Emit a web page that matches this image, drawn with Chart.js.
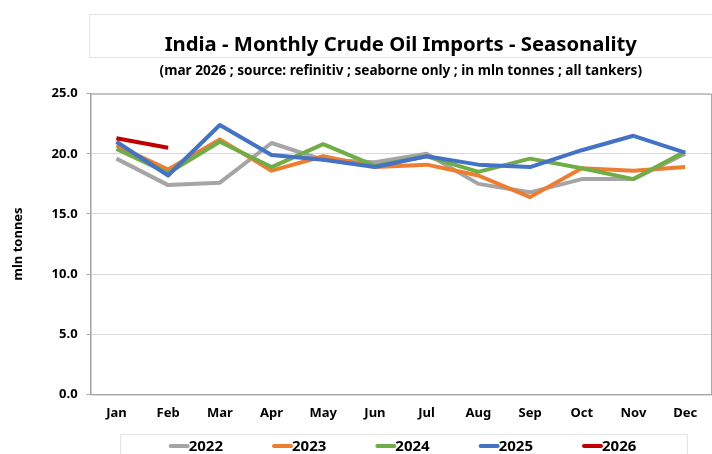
<!DOCTYPE html>
<html>
<head>
<meta charset="utf-8">
<script src="https://cdn.jsdelivr.net/npm/chart.js@4.4.1/dist/chart.umd.min.js"></script>
<style>
  html, body { margin: 0; padding: 0; background: #fff; }
  #wrap { width: 712px; height: 454px; }
</style>
</head>
<body>
<div id="wrap"><canvas id="chart"></canvas></div>
<script>
// India crude imports by month, mln tonnes
const MONTHS = ['Jan', 'Feb', 'Mar', 'Apr', 'May', 'Jun', 'Jul', 'Aug', 'Sep', 'Oct', 'Nov', 'Dec'];
const YEARS = ['2022', '2023', '2024', '2025', '2026'];
const Y2022 = [19.6, 17.4, 17.6, 20.9, 19.5, 19.3, 20.0, 17.5, 16.8, 17.9, 17.9, 20.0];
const Y2023 = [20.7, 18.7, 21.2, 18.6, 19.8, 18.9, 19.1, 18.2, 16.4, 18.8, 18.6, 18.9];
const Y2024 = [20.4, 18.4, 21.0, 18.9, 20.8, 19.0, 19.8, 18.5, 19.6, 18.8, 17.9, 20.2];
const Y2025 = [21.0, 18.2, 22.4, 19.9, 19.5, 18.9, 19.8, 19.1, 18.9, 20.3, 21.5, 20.1];
const Y2026 = [21.3, 20.5];
const Y_TICKS = [0, 5, 10, 15, 20, 25];

const SERIES = [Y2022, Y2023, Y2024, Y2025, Y2026];
const COLORS = ['#a5a5a5', '#ed7d31', '#70ad47', '#4472c4', '#c00000'];

const FONT = "'Noto Sans', sans-serif";

// frame round the plot area + faint boxes round title and legend
const frames = {
    id: 'frames',
    afterDraw(chart) {
        const { ctx, chartArea: a } = chart;
        ctx.save();
        ctx.strokeStyle = '#e3e3e3';
        ctx.lineWidth = 1;
        ctx.strokeRect(89.5, 14.5, 640, 43);
        ctx.strokeRect(120.5, 434.5, 567, 30);
        ctx.strokeStyle = '#a6a6a6';
        ctx.strokeRect(a.left + 0.5, a.top + 0.5, a.right - a.left, a.bottom - a.top);
        ctx.restore();
    },
};

// legend like the excel one: short line sample glued to the year
const lineLegend = {
    id: 'lineLegend',
    afterDraw(chart) {
        const { ctx } = chart;
        const sets = chart.data.datasets;
        const gap = 49, sample = 20, cx = 402.5, y = 446;
        ctx.save();
        ctx.font = `bold 15px ${FONT}`;
        const widths = sets.map(d => sample + ctx.measureText(d.label).width);
        const total = widths.reduce((s, w) => s + w, 0) + gap * (sets.length - 1);
        let x = cx - total / 2;
        sets.forEach((d, i) => {
            ctx.strokeStyle = d.borderColor;
            ctx.lineWidth = 4;
            ctx.lineCap = 'round';
            ctx.beginPath();
            ctx.moveTo(x + 2, y);
            ctx.lineTo(x + sample - 1, y);
            ctx.stroke();
            ctx.fillStyle = '#000';
            ctx.textBaseline = 'middle';
            ctx.fillText(d.label, x + sample, y + 1);
            x += widths[i] + gap;
        });
        ctx.restore();
    },
};

const datasets = SERIES.map((data, i) => ({
    label: YEARS[i],
    data,
    borderColor: COLORS[i],
    backgroundColor: COLORS[i],
    borderWidth: 4,
    pointRadius: 0,
    tension: 0,
    borderJoinStyle: 'round',
    order: SERIES.length - i,
}));

new Chart(document.getElementById('chart'), {
    type: 'line',
    data: { labels: MONTHS, datasets },
    plugins: [frames, lineLegend],
    options: {
        responsive: true,
        maintainAspectRatio: false,
        animation: false,
        layout: { padding: { left: 0, right: 1, top: 0, bottom: 22 } },
        scales: {
            x: {
                offset: true,
                grid: { display: false, drawTicks: false },
                border: { color: '#a6a6a6' },
                ticks: {
                    color: '#000',
                    padding: 11,
                    maxRotation: 0,
                    font: { family: FONT, size: 13, weight: 'bold' },
                },
            },
            y: {
                min: 0,
                max: 25,
                afterBuildTicks: (axis) => { axis.ticks = Y_TICKS.map(v => ({ value: v })); },
                grid: { color: '#d9d9d9', tickLength: 4, tickColor: '#a6a6a6' },
                border: { color: '#a6a6a6' },
                title: {
                    display: true,
                    text: 'mln tonnes',
                    color: '#000',
                    padding: { top: 10, bottom: 17 },
                    font: { family: FONT, size: 13, weight: 'bold' },
                },
                ticks: {
                    color: '#000',
                    padding: 9,
                    callback: (v) => v.toFixed(1),
                    font: { family: FONT, size: 13, weight: 'bold' },
                },
            },
        },
        plugins: {
            title: {
                display: true,
                fullSize: false,
                text: 'India - Monthly Crude Oil Imports - Seasonality',
                color: '#000',
                padding: { top: 33, bottom: 2 },
                font: { family: FONT, size: 20.3, weight: 'bold' },
            },
            subtitle: {
                display: true,
                fullSize: false,
                text: '(mar 2026 ; source: refinitiv ; seaborne only ; in mln tonnes ; all tankers)',
                color: '#000',
                padding: { top: 4, bottom: 14 },
                font: { family: FONT, size: 13.6, weight: 'bold' },
            },
            legend: { display: false },
            tooltip: { enabled: false },
        },
    },
});
</script>
</body>
</html>
